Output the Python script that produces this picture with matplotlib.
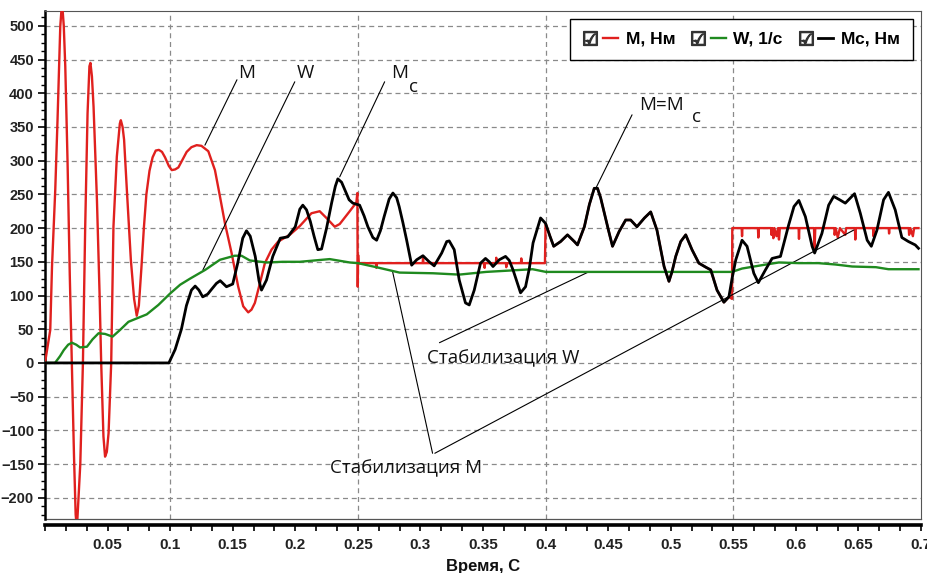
import numpy as np
import matplotlib
matplotlib.use('Agg')
import matplotlib.pyplot as plt
from matplotlib.lines import Line2D
from matplotlib.legend_handler import HandlerTuple
from matplotlib.ticker import MultipleLocator, FixedLocator, FuncFormatter

# --- data ---
# M, Нм (red): start-up transient until 0.25 s
t_m1 = [0.0, 0.0042, 0.0056, 0.0082, 0.010, 0.0122, 0.0136, 0.0150, 0.0162, 0.0180, 0.0198, 0.0214,
        0.0232, 0.0245, 0.0255, 0.0268, 0.0282, 0.0303, 0.0321, 0.0340, 0.0355, 0.0363, 0.0375, 0.0388,
        0.0415, 0.0436, 0.0449, 0.0467, 0.0480, 0.0494, 0.0508, 0.0529, 0.0547, 0.0574, 0.0598, 0.0606,
        0.0620, 0.0632, 0.0654, 0.0686, 0.0712, 0.0733, 0.0750, 0.0770, 0.0790, 0.0810, 0.0835, 0.0860,
        0.0885, 0.0910, 0.0935, 0.0959, 0.0990, 0.1013, 0.1040, 0.1066, 0.1100, 0.1132, 0.1170, 0.1212,
        0.1250, 0.1305, 0.1358, 0.1398, 0.1438, 0.1491, 0.1544, 0.1584, 0.1624, 0.1650, 0.1677, 0.1717,
        0.1757, 0.1810, 0.1863, 0.1956, 0.2036, 0.2129, 0.2195, 0.2249, 0.2315, 0.2355, 0.2435, 0.2488,
        0.2496]
m1 = [0, 49, 143, 257, 360, 499, 535, 500, 440, 300, 130, 0,
      -140, -225, -245, -200, -150, 0, 200, 370, 440, 445, 425, 380,
      242, 103, 0, -109, -139, -132, -104, 0, 202, 306, 355, 360,
      350, 331, 257, 153, 95, 70, 85, 140, 200, 250, 285, 305,
      315, 316, 313, 305, 292, 286, 287, 290, 302, 313, 320, 323,
      322, 314, 286, 247, 207, 163, 113, 84, 75, 79, 89, 118,
      148, 168, 180, 190, 203, 222, 225, 215, 202, 206, 225, 238,
      252]
# M held at 150 (0.25 .. 0.40 s) with small spikes
t_m2 = [0.2499, 0.2502, 0.2506, 0.2645, 0.2648, 0.2651, 0.3018, 0.3021, 0.3024, 0.3510, 0.3513, 0.3516,
        0.3603, 0.3606, 0.3609, 0.3683, 0.3686, 0.3689, 0.3803, 0.3806, 0.3809, 0.3995]
m2 = [113, 160, 148, 148, 141, 148, 148, 156, 148, 148, 141, 148,
      148, 156, 148, 148, 142, 148, 148, 155, 148, 148]
# M held at 200 (0.55 .. 0.70 s) with downward spikes
t_m3 = [0.5492, 0.5567, 0.557, 0.5573, 0.5697, 0.570, 0.5703, 0.5802, 0.5805, 0.5812, 0.582, 0.5828,
        0.5845, 0.5858, 0.5865, 0.5872, 0.6022, 0.6025, 0.6028, 0.6145, 0.615, 0.6155, 0.6307, 0.631,
        0.6318, 0.6335, 0.6352, 0.6395, 0.6402, 0.6472, 0.6475, 0.6478, 0.6617, 0.662, 0.6623, 0.6742,
        0.6745, 0.6748, 0.6902, 0.6905, 0.6915, 0.6935, 0.6945, 0.698]
m3 = [200, 200, 188, 200, 200, 186, 200, 200, 190, 200, 185, 200,
      188, 200, 183, 200, 200, 184, 200, 200, 168, 200, 200, 190,
      200, 186, 200, 190, 200, 200, 183, 200, 200, 188, 200, 200,
      192, 200, 200, 190, 200, 188, 200, 200]

# W, 1/c (green)
t_w = [0.0, 0.008, 0.012, 0.015, 0.0185, 0.0215, 0.025, 0.028, 0.0335, 0.038, 0.0428, 0.048, 0.054,
       0.060, 0.0667, 0.0733, 0.0813, 0.0906, 0.1000, 0.1080, 0.1159, 0.128, 0.1398, 0.1515, 0.157,
       0.1637, 0.177, 0.190, 0.2036, 0.2275, 0.2435, 0.250, 0.2648, 0.2833, 0.310, 0.331, 0.3525,
       0.3896, 0.4003, 0.4428, 0.4667, 0.549, 0.557, 0.573, 0.5864, 0.6024, 0.618, 0.6316, 0.645,
       0.664, 0.674, 0.698]
w = [0, 0, 10, 19, 27, 30, 27, 23, 24, 35, 44, 43, 39,
     49, 61, 66, 72, 86, 103, 116, 125, 138, 153, 159, 159,
     152, 149, 150, 150, 154, 149, 148, 142, 134, 133, 131, 135,
     139, 135, 135, 135, 135, 140, 145, 149, 148, 148, 146, 143,
     142, 139, 139]

# Mc, Нм (black)
t_mc = [0.0, 0.099, 0.104, 0.109, 0.113, 0.117, 0.120, 0.123, 0.126, 0.130, 0.133, 0.137, 0.140, 0.145,
        0.150, 0.154, 0.158, 0.161, 0.164, 0.168, 0.171, 0.173, 0.177, 0.182, 0.188, 0.194, 0.200,
        0.2036, 0.206, 0.209, 0.212, 0.215, 0.218, 0.221, 0.225, 0.229, 0.232, 0.234, 0.237, 0.2395,
        0.243, 0.246, 0.2514, 0.255, 0.258, 0.262, 0.265, 0.268, 0.271, 0.275, 0.278, 0.281, 0.283,
        0.286, 0.289, 0.293, 0.297, 0.302, 0.307, 0.311, 0.317, 0.321, 0.323, 0.327, 0.331, 0.336,
        0.339, 0.343, 0.348, 0.352, 0.355, 0.358, 0.363, 0.368, 0.371, 0.374, 0.380, 0.384, 0.387,
        0.390, 0.396, 0.400, 0.4035, 0.4065, 0.412, 0.4175, 0.423, 0.4255, 0.431, 0.435, 0.4389,
        0.4415, 0.444, 0.447, 0.4505, 0.4535, 0.4588, 0.464, 0.468, 0.473, 0.479, 0.484, 0.489,
        0.4947, 0.4986, 0.501, 0.504, 0.508, 0.512, 0.517, 0.5225, 0.528, 0.532, 0.537, 0.5425,
        0.5465, 0.549, 0.552, 0.557, 0.561, 0.5664, 0.570, 0.5757, 0.581, 0.5877, 0.5943, 0.5985,
        0.6024, 0.6076, 0.613, 0.615, 0.6208, 0.6262, 0.6302, 0.635, 0.6395, 0.6469, 0.6515, 0.657,
        0.6603, 0.6648, 0.6701, 0.674, 0.6794, 0.6847, 0.690, 0.6954, 0.698]
mc = [0, 0, 20, 50, 85, 108, 114, 108, 98, 102, 109, 118, 122, 113,
      117, 148, 185, 196, 188, 158, 122, 108, 123, 158, 185, 187, 202,
      228, 234, 227, 210, 188, 168, 169, 200, 237, 262, 273, 268, 257,
      242, 237, 234, 218, 202, 186, 182, 196, 217, 243, 252, 245, 232,
      208, 182, 145, 153, 159, 150, 144, 163, 180, 181, 168, 123, 89,
      86, 108, 148, 155, 150, 143, 153, 158, 152, 138, 104, 113, 140,
      178, 215, 207, 188, 173, 180, 190, 180, 175, 202, 235, 259,
      259, 245, 222, 195, 173, 195, 212, 212, 202, 215, 224, 197,
      143, 121, 135, 158, 180, 190, 168, 148, 142, 138, 108, 90,
      98, 125, 153, 182, 173, 133, 119, 138, 155, 158, 205, 232,
      241, 217, 173, 163, 192, 234, 247, 242, 237, 251, 222, 182,
      173, 197, 242, 253, 227, 186, 180, 175, 170]

x_ticks = [0.05, 0.1, 0.15, 0.2, 0.25, 0.3, 0.35, 0.4, 0.45, 0.5, 0.55, 0.6, 0.65, 0.7]
y_ticks = [-200, -150, -100, -50, 0, 50, 100, 150, 200, 250, 300, 350, 400, 450, 500]
grid_x = [0.1, 0.25, 0.4, 0.55]

# between 0.40 and 0.55 s the red M coincides with Mc
t_mc_arr = np.array(t_mc)
sel = (t_mc_arr >= 0.4) & (t_mc_arr <= 0.5465)
t_m = t_m1 + t_m2 + list(t_mc_arr[sel]) + [0.549] + t_m3
m = m1 + m2 + list(np.array(mc)[sel]) + [95] + m3

plt.rcParams['font.family'] = ['Liberation Sans', 'DejaVu Sans']
plt.rcParams['font.weight'] = 'bold'

fig = plt.figure(figsize=(9.28, 5.73), dpi=100)
ax = fig.add_axes([45 / 928, 54 / 573, 876 / 928, 508 / 573])

red = '#e0201e'
green = '#1f8a1f'
l_m, = ax.plot(t_m, m, color=red, lw=1.7, zorder=3)
l_w, = ax.plot(t_w, w, color=green, lw=1.7, zorder=4)
l_mc, = ax.plot(t_mc, mc, color='black', lw=2.0, zorder=5)

ax.set_xlim(0, 0.7)
ax.set_ylim(-231.5, 522)

# grid
ax.yaxis.set_major_locator(FixedLocator(y_ticks))
ax.yaxis.set_minor_locator(MultipleLocator(12.5))
ax.xaxis.set_major_locator(FixedLocator(x_ticks))
ax.xaxis.set_minor_locator(MultipleLocator(0.05 / 3))
ax.xaxis.set_major_formatter(FuncFormatter(lambda v, p: '%g' % round(v, 3)))
ax.yaxis.grid(True, ls=(0, (4, 3)), color='#8a8a8a', lw=0.9, zorder=0)
for gx in grid_x:
    ax.axvline(gx, ls=(0, (4, 3)), color='#8a8a8a', lw=0.9, zorder=0)

# spines
for s in ['top', 'right']:
    ax.spines[s].set_color('#555555')
    ax.spines[s].set_linewidth(0.8)
ax.spines['left'].set_linewidth(1.8)
ax.spines['bottom'].set_position(('outward', 4))
ax.spines['bottom'].set_linewidth(2.6)
ax.plot([0, 1], [0, 0], transform=ax.transAxes, color='#555555', lw=0.9, clip_on=False)

ax.tick_params(axis='y', which='major', direction='out', length=5, width=1.2, pad=3,
               labelsize=10.5, labelcolor='#222222')
ax.tick_params(axis='y', which='minor', direction='out', length=3, width=1.0)
ax.tick_params(axis='x', which='both', direction='out', length=4, width=1.2)
ax.tick_params(axis='x', which='major', pad=6, labelsize=11, labelcolor='#222222')

ax.set_xlabel('Время, С', fontsize=12, fontweight='bold', labelpad=5, color='#111111')

# legend with check boxes
def check():
    return Line2D([], [], ls='none', marker='$\u2611$', ms=10, color='#333333')

leg = ax.legend([(check(), l_m), (check(), l_w), (check(), l_mc)],
                ['M, Нм', 'W, 1/c', 'Мс, Нм'],
                handler_map={tuple: HandlerTuple(ndivide=None, pad=0.3)},
                ncol=3, loc='upper right', bbox_to_anchor=(0.9908, 0.985), borderaxespad=0,
                prop={'weight': 'bold', 'size': 12.5}, handlelength=2.0, handletextpad=0.45,
                columnspacing=0.9, borderpad=0.75, fancybox=False, framealpha=1,
                edgecolor='black')
leg.get_frame().set_linewidth(1.0)
leg.set_zorder(10)

# annotations
tfont = dict(family=['Open Sans', 'DejaVu Sans'], fontsize=13.5, fontweight='normal',
             color='#111111', zorder=8)
lkw = dict(arrowstyle='-', lw=0.8, color='black', shrinkA=0, shrinkB=0)

ax.annotate('', xy=(0.1278, 323), xytext=(0.1534, 420), arrowprops=lkw)
ax.text(0.1542, 430, 'M', va='center', ha='left', **tfont)

ax.annotate('', xy=(0.1262, 138), xytext=(0.1996, 417), arrowprops=lkw)
ax.text(0.2015, 430, 'W', va='center', ha='left', **tfont)

ax.annotate('', xy=(0.2355, 276), xytext=(0.2714, 417), arrowprops=lkw)
ax.text(0.2768, 430, 'M', va='center', ha='left', **tfont)
ax.text(0.2905, 410, 'с', va='center', ha='left', **tfont)

ax.annotate('', xy=(0.4404, 260), xytext=(0.4691, 368), arrowprops=lkw)
ax.text(0.4745, 383, 'M=M', va='center', ha='left', **tfont)
ax.text(0.5168, 365, 'с', va='center', ha='left', **tfont)

ax.annotate('', xy=(0.4333, 134), xytext=(0.3152, 30), arrowprops=lkw)
ax.text(0.305, 7, 'Стабилизация W', va='center', ha='left', **tfont)

ax.annotate('', xy=(0.2778, 135), xytext=(0.3097, -134), arrowprops=lkw)
ax.annotate('', xy=(0.6462, 197), xytext=(0.3115, -134), arrowprops=lkw)
ax.text(0.2275, -156, 'Стабилизация M', va='center', ha='left', **tfont)

fig.savefig('out.png', dpi=100)
